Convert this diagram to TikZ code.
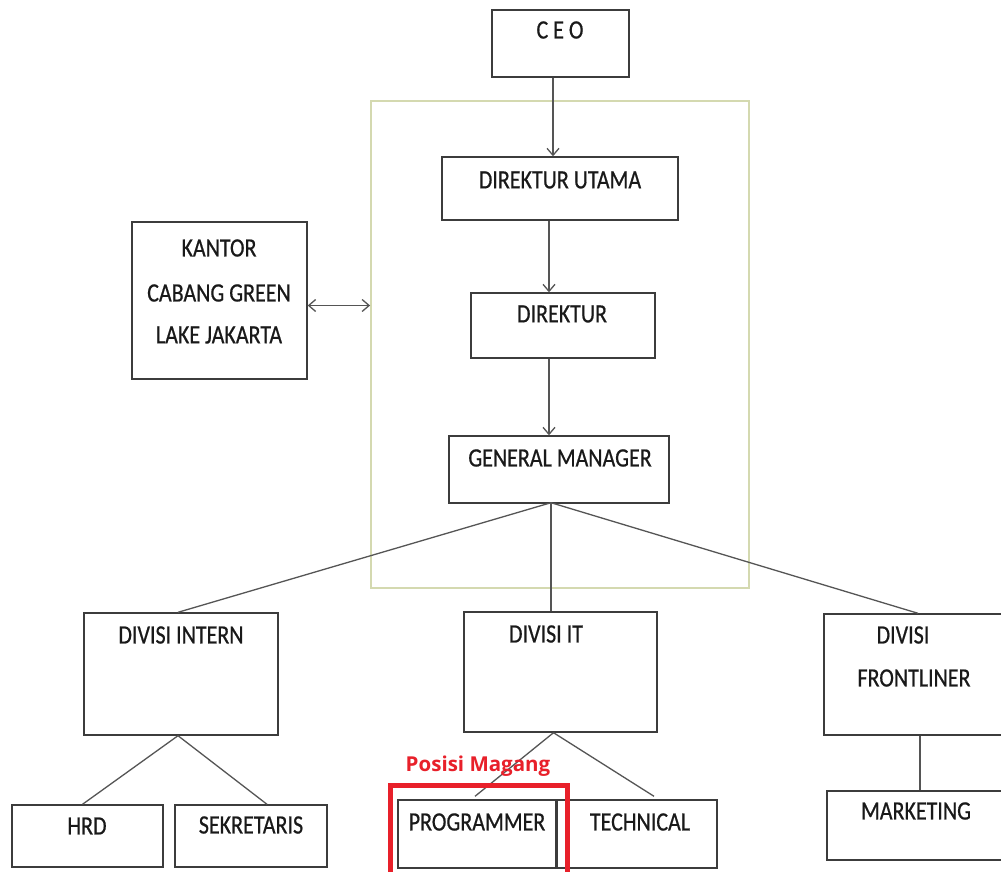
\documentclass[tikz,border=0pt]{standalone}
\usepackage{fontspec}
\usepackage{graphicx}
\setmainfont{Carlito}
\newfontfamily\heavyfont[FakeBold=0.7]{Carlito}
\newfontfamily\redfont{Open Sans}
\usetikzlibrary{arrows.meta}
\definecolor{boxgray}{HTML}{3C3C3C}
\definecolor{linegray}{HTML}{555555}
\definecolor{framegreen}{HTML}{D4D9B0}
\definecolor{hlred}{HTML}{E8202A}
\newcommand{\tallt}[1]{\scalebox{1}[1.2]{#1}}
\tikzset{
  box/.style={draw=boxgray, line width=1.4pt, inner sep=0pt, fill=white},
  frame/.style={draw=framegreen, line width=1.8pt, inner sep=0pt},
  txt/.style={inner sep=0pt, font=\heavyfont\fontsize{22}{24}\selectfont, text=black!90},
  conn/.style={draw=linegray, line width=1.3pt},
  arr/.style={conn, -{Straight Barb[length=7pt,width=12pt]}},
  darr/.style={conn, {Straight Barb[length=7pt,width=12pt]}-{Straight Barb[length=7pt,width=12pt]}},
  hl/.style={draw=hlred, line width=5pt, inner sep=0pt},
  hltxt/.style={inner sep=0pt, text=hlred, font=\redfont\bfseries\fontsize{20.5}{22}\selectfont}
}
\begin{document}
\begin{tikzpicture}[x=1pt,y=-1pt]
\useasboundingbox[fill=white] (0,0) rectangle (1001,872);
% green frame
\node[frame, minimum width=378pt, minimum height=487pt] (grp) at (560,344.5) {};
% boxes
\node[box, minimum width=137pt, minimum height=67pt] (ceo) at (560.5,43.5) {};
\node[box, minimum width=236pt, minimum height=63pt] (du) at (560,188.5) {};
\node[box, minimum width=184pt, minimum height=65pt] (dir) at (563,325.5) {};
\node[box, minimum width=220pt, minimum height=67pt] (gm) at (559,469.5) {};
\node[box, minimum width=175pt, minimum height=157pt] (kantor) at (219.5,300.5) {};
\node[box, minimum width=194pt, minimum height=122pt] (intern) at (181,674) {};
\node[box, minimum width=193pt, minimum height=120pt] (it) at (560.5,672) {};
\node[box, minimum width=186pt, minimum height=121pt] (front) at (917,674.5) {};
\node[box, minimum width=183pt, minimum height=69pt] (mkt) at (918.5,825.5) {};
\node[box, minimum width=151pt, minimum height=62pt] (hrd) at (87.5,836) {};
\node[box, minimum width=152pt, minimum height=62pt] (sek) at (251,836) {};
\node[box, minimum width=158pt, minimum height=68pt] (prog) at (477,834) {};
\node[box, minimum width=160pt, minimum height=68pt] (tech) at (637,834) {};
% texts
\node[txt] (tceo) at (560,30) {\tallt{C E O}};
\node[txt] (tdu) at (560,180) {\tallt{DIREKTUR UTAMA}};
\node[txt] (tdir) at (562,314) {\tallt{DIREKTUR}};
\node[txt] (tgm) at (560,458) {\tallt{GENERAL MANAGER}};
\node[txt] (tk1) at (219,248) {\tallt{KANTOR}};
\node[txt] (tk2) at (219,293) {\tallt{CABANG GREEN}};
\node[txt] (tk3) at (219,335) {\tallt{LAKE JAKARTA}};
\node[txt] (tint) at (181,635) {\tallt{DIVISI INTERN}};
\node[txt] (tit) at (546,634) {\tallt{DIVISI IT}};
\node[txt] (tf1) at (903,635) {\tallt{DIVISI}};
\node[txt] (tf2) at (914,678) {\tallt{FRONTLINER}};
\node[txt] (thrd) at (87,826) {\tallt{HRD}};
\node[txt] (tsek) at (251,825) {\tallt{SEKRETARIS}};
\node[txt] (tprog) at (477,822) {\tallt{PROGRAMMER}};
\node[txt] (ttech) at (640,822) {\tallt{TECHNICAL}};
\node[txt] (tmkt) at (916,811) {\tallt{MARKETING}};
% arrows
\draw[arr] ([xshift=-7.5pt]ceo.south) -- ([xshift=-7pt]du.north);
\draw[arr] ([xshift=-11pt]du.south) -- ([xshift=-14pt]dir.north);
\draw[arr] ([xshift=-14pt]dir.south) -- ([xshift=-10pt]gm.north);
\draw[darr] ([yshift=-5pt]kantor.east) -- ([yshift=-5pt]kantor.east -| grp.west);
% tree connectors
\coordinate (gmc) at ([xshift=-8pt,yshift=1pt]gm.south);
\draw[conn] (gmc) -- ([xshift=-3pt]intern.north);
\draw[conn] (gmc) -- ([xshift=-9.5pt]it.north);
\draw[conn] (gmc) -- ([xshift=1pt]front.north);
\coordinate (inc) at ([xshift=-3pt]intern.south);
\draw[conn] (inc) -- ([xshift=-5pt]hrd.north);
\draw[conn] (inc) -- ([xshift=16pt]sek.north);
\coordinate (itc) at ([xshift=-7pt]it.south);
\draw[conn] (itc) -- ([xshift=-2pt,yshift=3pt]prog.north);
\draw[conn] (itc) -- ([xshift=17pt,yshift=3pt]tech.north);
\draw[conn] ([xshift=3pt]front.south) -- ([xshift=1.5pt]mkt.north);
% highlight
\node[hl, minimum width=177pt, minimum height=90pt] (hlbox) at (478.5,830) {};
\node[hltxt] (thl) at (478,766) {Posisi Magang};
\end{tikzpicture}
\end{document}
